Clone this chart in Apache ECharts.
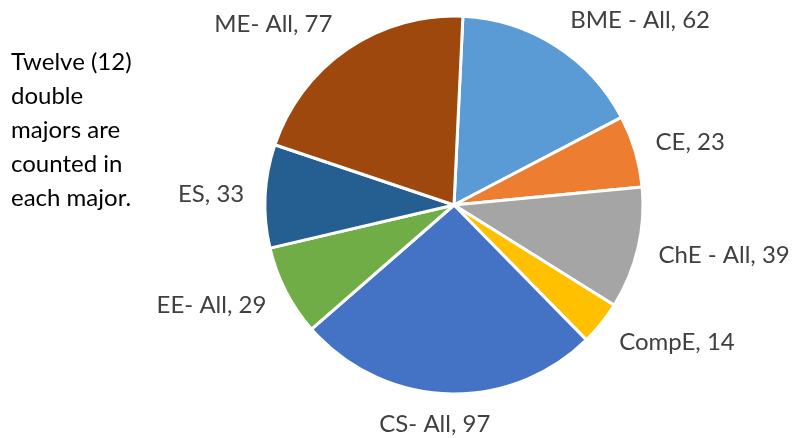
<!DOCTYPE html>
<html>
<head>
<meta charset="utf-8">
<title>Majors pie</title>
<style>
  html, body { margin: 0; padding: 0; background: #fff; }
  #main { width: 801px; height: 438px; }
</style>
</head>
<body>
<div id="main"></div>
<script src="https://cdn.jsdelivr.net/npm/echarts@6/dist/echarts.min.js"></script>
<script>
// data, clockwise from the top
var names = ['BME - All', 'CE', 'ChE - All', 'CompE', 'CS- All', 'EE- All', 'ES', 'ME- All'];
var counts = [62, 23, 39, 14, 97, 29, 33, 77];
var colors = ['#5B9BD5', '#ED7D31', '#A5A5A5', '#FFC000', '#4472C4', '#70AD47', '#255E91', '#9E480E'];
var note = ['Twelve (12)', 'double', 'majors are', 'counted in', 'each major.'];

var cx = 454, cy = 205, r = 189;
var myChart = echarts.init(document.getElementById('main'));

var data = [];
for (var i = 0; i < names.length; i++) {
  data.push({ name: names[i], value: counts[i], itemStyle: { color: colors[i] } });
}

myChart.setOption({
  animation: false,
  backgroundColor: '#fff',
  graphic: [{
    type: 'text',
    left: 11,
    top: 45,
    style: {
      text: note.join('\n'),
      font: '24px Lato, "Noto Sans", sans-serif',
      lineHeight: 34,
      fill: '#000'
    }
  }],
  series: [{
    type: 'pie',
    center: [cx, cy],
    radius: r,
    startAngle: 87.3,
    clockwise: true,
    avoidLabelOverlap: false,
    itemStyle: { borderColor: '#fff', borderWidth: 3 },
    label: {
      show: true,
      position: 'outside',
      formatter: '{b}, {c}',
      color: '#404040',
      fontSize: 24,
      fontFamily: 'Lato, "Noto Sans", sans-serif'
    },
    labelLine: { show: false, length: 14, length2: 2 },
    // push top/bottom labels further out and center the ones near the bottom,
    // like office charts do
    labelLayout: function (p) {
      var pts = p.labelLinePoints;
      if (!pts) return {};
      var s = (pts[0][1] - cy) / r;
      var c = (pts[0][0] - cx) / r;
      var f = Math.max(0, 1 - Math.abs(c) / 0.5);
      var w = p.labelRect.width;
      return { dy: s * 16, dx: -(c >= 0 ? 1 : -1) * w / 2 * f };
    },
    emphasis: { disabled: true },
    data: data
  }]
});
</script>
</body>
</html>
